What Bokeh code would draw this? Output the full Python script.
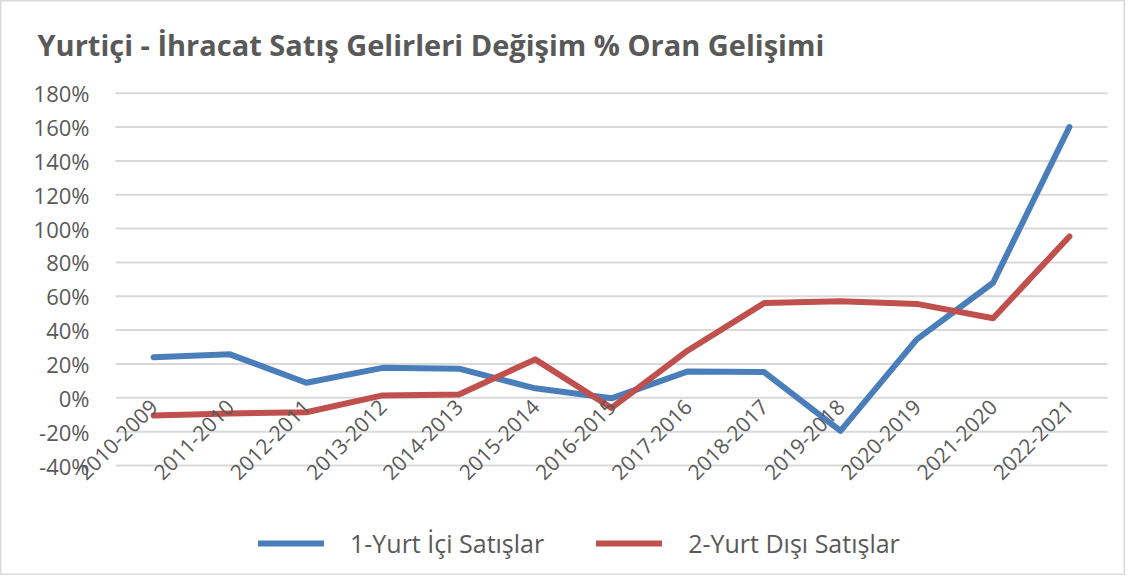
import math
from bokeh.plotting import figure
from bokeh.models import (Legend, LegendItem, FixedTicker, PrintfTickFormatter,
                          Label, ColumnDataSource, Range1d)
from bokeh.embed import file_html
from bokeh.resources import INLINE

categories = ["2010-2009", "2011-2010", "2012-2011", "2013-2012", "2014-2013",
              "2015-2014", "2016-2015", "2017-2016", "2018-2017", "2019-2018",
              "2020-2019", "2021-2020", "2022-2021"]
yurt_ici = [24, 25.7, 8.9, 17.7, 17.2, 5.6, -0.3, 15.6, 15.2, -19.5, 34.5, 68, 160]
yurt_disi = [-10.4, -9.3, -8.5, 1.4, 2.0, 22.7, -6.0, 28, 56, 57, 55.5, 47, 95.3]
y_ticks = [-40, -20, 0, 20, 40, 60, 80, 100, 120, 140, 160, 180]
series_names = ["1-Yurt İçi Satışlar", "2-Yurt Dışı Satışlar"]
title_text = "Yurtiçi - İhracat Satış Gelirleri Değişim % Oran Gelişimi"

FONT = "Open Sans"
TXT = "#595959"
BLUE = "#4A7EBB"
RED = "#C0504D"
GRID = "#D9D9D9"

n = len(categories)
xpos = [i + 0.5 for i in range(n)]   # category centres on a numeric scale

W, H = 1125, 575
p = figure(width=W, height=H,
           x_range=Range1d(-1.507, 13.235), y_range=Range1d(-105.0, 234.78),
           output_backend="svg", toolbar_location=None,
           min_border_left=0, min_border_right=0, min_border_top=0,
           min_border_bottom=0)
p.outline_line_color = GRID
p.outline_line_width = 2
p.background_fill_color = "white"
p.border_fill_color = "white"
p.xgrid.visible = False
p.ygrid.visible = False

# horizontal gridlines spanning the category band only
p.segment(x0=[0] * len(y_ticks), x1=[n] * len(y_ticks), y0=y_ticks, y1=y_ticks,
          line_color=GRID, line_width=2)

src = ColumnDataSource(dict(x=xpos, a=yurt_ici, b=yurt_disi))
r1 = p.line("x", "a", source=src, line_color=BLUE, line_width=6,
            line_join="round", line_cap="round")
r2 = p.line("x", "b", source=src, line_color=RED, line_width=6,
            line_join="round", line_cap="round")

# y axis (anchored at the left edge of the category band)
p.yaxis.fixed_location = 0
p.yaxis.ticker = FixedTicker(ticks=y_ticks)
p.yaxis.formatter = PrintfTickFormatter(format="%d%%")
p.yaxis.axis_line_color = None
p.yaxis.major_tick_line_color = None
p.yaxis.minor_tick_line_color = None
p.yaxis.major_tick_out = 0
p.yaxis.major_tick_in = 0
p.yaxis.major_label_standoff = 26
p.yaxis.major_label_text_font = FONT
p.yaxis.major_label_text_font_size = "22px"
p.yaxis.major_label_text_color = TXT

# x axis crossing at 0 %
p.xaxis.fixed_location = 0
p.xaxis.ticker = FixedTicker(ticks=xpos)
p.xaxis.major_label_overrides = {x: c for x, c in zip(xpos, categories)}
p.xaxis.axis_line_color = None
p.xaxis.major_tick_line_color = None
p.xaxis.minor_tick_line_color = None
p.xaxis.major_tick_out = 0
p.xaxis.major_tick_in = 0
p.xaxis.major_label_orientation = math.pi / 4
p.xaxis.major_label_standoff = 5
p.xaxis.major_label_text_font = FONT
p.xaxis.major_label_text_font_size = "21px"
p.xaxis.major_label_text_color = TXT

# title
p.add_layout(Label(x=37, y=H - 44, x_units="screen", y_units="screen",
                   text=title_text, text_font=FONT, text_font_style="bold",
                   text_font_size="29px", text_color=TXT,
                   text_baseline="alphabetic"))

legend = Legend(items=[LegendItem(label=series_names[0], renderers=[r1]),
                       LegendItem(label=series_names[1], renderers=[r2])],
                orientation="horizontal", location=(258, 15),
                border_line_color=None, background_fill_alpha=0,
                label_text_font=FONT, label_text_font_size="25px",
                label_text_color=TXT, glyph_width=66, label_standoff=26,
                spacing=52, padding=5, margin=0)
p.add_layout(legend, "center")

open("out.html", "w").write(file_html(p, INLINE))
